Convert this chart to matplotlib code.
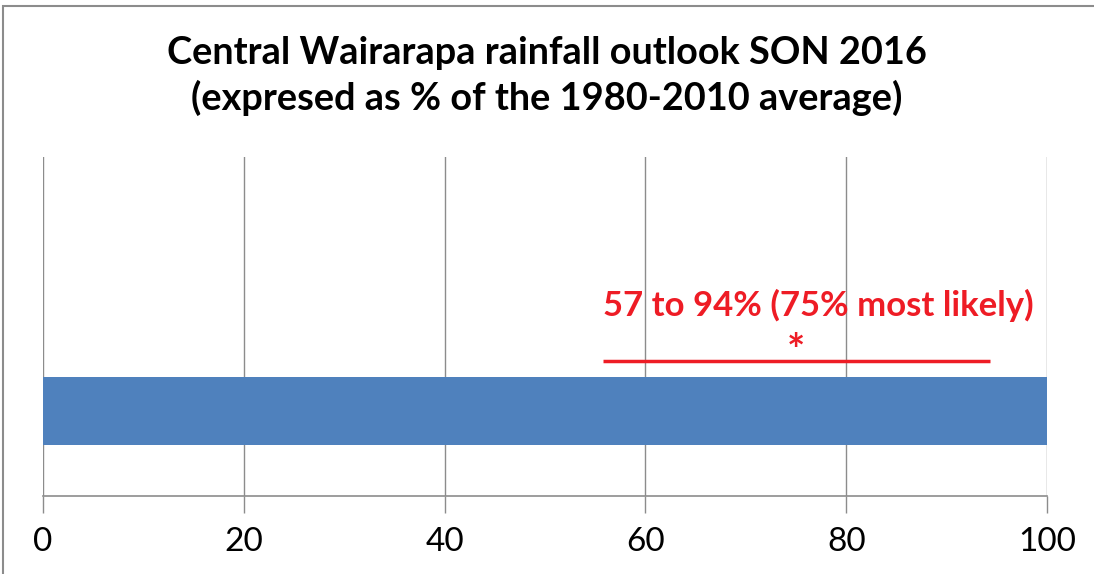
import matplotlib
matplotlib.use("Agg")
import matplotlib.pyplot as plt
from matplotlib.patches import Rectangle

# Data
bar_start = [0]
bar_value = [100]
range_low = 55.8
range_high = 94.3
most_likely = 75
annotation = "57 to 94% (75% most likely)"
xticks = [0, 20, 40, 60, 80, 100]
title = "Central Wairarapa rainfall outlook SON 2016\n(expresed as % of the 1980-2010 average)"

W, H = 1094, 574
fig = plt.figure(figsize=(W / 100, H / 100), dpi=100)
plt.rcParams['font.family'] = ['Lato', 'DejaVu Sans']

# chart frame
fig.patches.append(Rectangle((3 / W, -0.05), 1.2, (574 - 6) / H + 0.05, transform=fig.transFigure,
                             fill=False, edgecolor='#8c8c8c', lw=1.5))

ax = fig.add_axes([43 / W, (574 - 496) / H, (1047 - 43) / W, (496 - 157) / H])
ax.set_xlim(0, 100)
ax.set_ylim(0, 1)

ax.barh([0.251], bar_value, left=bar_start, height=0.2, color='#4F81BD', zorder=3)

for x in xticks:
    ax.axvline(x, color='#8c8c8c', lw=1, zorder=1)

ax.plot([range_low, range_high], [0.398, 0.398], color='#EE1C25', lw=2.5, zorder=4,
        solid_capstyle='butt')
ax.text(most_likely, 0.425, "*", color='#EE1C25', fontsize=31, fontweight='bold',
        ha='center', va='center', zorder=4)
ax.text(77.2, 0.563, annotation, color='#EE1C25', fontsize=25, fontweight='bold',
        ha='center', va='center', zorder=4)

for s in ['top', 'right', 'left']:
    ax.spines[s].set_visible(False)
ax.spines['bottom'].set_color('#8c8c8c')
ax.spines['bottom'].set_linewidth(1.2)
ax.set_yticks([])
ax.set_xticks(xticks)
ax.tick_params(axis='x', length=12, color='#8c8c8c', width=1, labelsize=24, pad=10)

fig.text(0.5, (574 - 76) / H, title, ha='center', va='center', fontsize=27.3,
         fontweight='bold', linespacing=1.33)

fig.savefig("out.png", dpi=100)
